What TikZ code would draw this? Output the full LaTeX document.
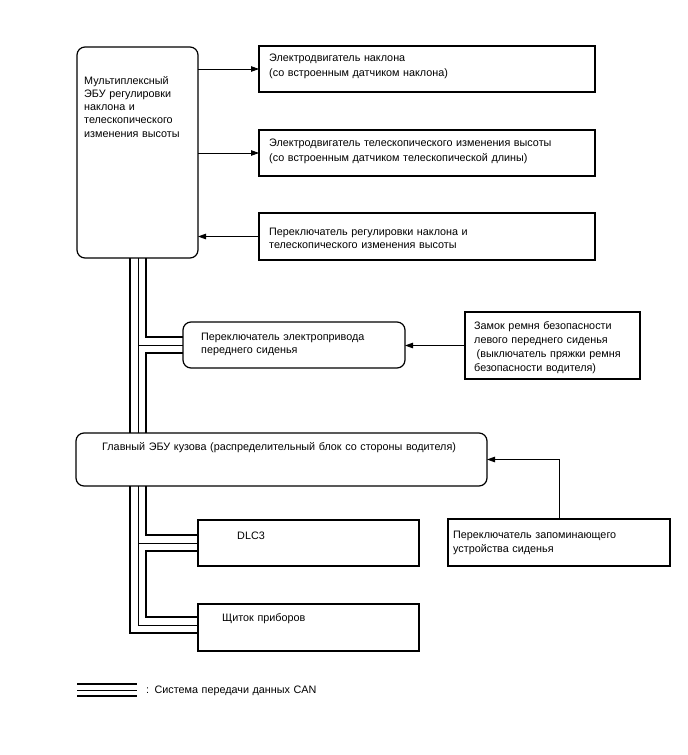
\documentclass[tikz,border=0pt]{standalone}
\usepackage{fontspec}
\setmainfont{Liberation Sans}
\usetikzlibrary{arrows.meta,calc}
\begin{document}
\begin{tikzpicture}[x=1pt,y=-1pt,
  box/.style={draw,line width=1.2pt,inner sep=0pt,outer sep=0pt,anchor=north west},
  rbox/.style={box,rounded corners=8pt},
  txt/.style={anchor=base west,inner sep=0pt,text width=480pt,align=left,font=\fontsize{10.8}{14}\selectfont},
  arr/.style={line width=0.8pt,-{Triangle[length=8pt,width=5.5pt]}},
  busthick/.style={line width=2.6pt},
  busthin/.style={line width=1pt}]
\useasboundingbox[fill=white] (0,0) rectangle (688,755);

% boxes
\node[rbox,minimum width=121pt,minimum height=211pt] (ecu) at (77,47) {};
\node[box,minimum width=336pt,minimum height=46pt] (b1) at (259,46) {};
\node[box,minimum width=336pt,minimum height=46pt] (b2) at (259,130) {};
\node[box,minimum width=336pt,minimum height=47pt] (b3) at (259,213) {};
\node[rbox,minimum width=222pt,minimum height=46pt] (seat) at (183,322) {};
\node[box,minimum width=175pt,minimum height=67pt] (belt) at (465,312) {};
\node[rbox,minimum width=411pt,minimum height=53pt] (main) at (76,433) {};
\node[box,minimum width=222pt,minimum height=47pt] (mem) at (448,519) {};
\node[box,minimum width=221pt,minimum height=46pt] (dlc) at (198,520) {};
\node[box,minimum width=221pt,minimum height=47pt] (cl) at (198,604) {};

% texts
\node[txt,font=\fontsize{10.8}{13.3}\selectfont] (tecu) at (84,84) {Мультиплексный\\ЭБУ регулировки\\наклона и\\телескопического\\изменения высоты};
\node[txt,font=\fontsize{10.8}{15}\selectfont] (tb1) at (269,61) {Электродвигатель наклона\\(со встроенным датчиком наклона)};
\node[txt,font=\fontsize{10.8}{15}\selectfont] (tb2) at (269,146) {Электродвигатель телескопического изменения высоты\\(со встроенным датчиком телескопической длины)};
\node[txt,font=\fontsize{10.8}{13}\selectfont] (tb3) at (269,235) {Переключатель регулировки наклона и\\телескопического изменения высоты};
\node[txt,font=\fontsize{10.8}{13}\selectfont] (tseat) at (201,340) {Переключатель электропривода\\переднего сиденья};
\node[txt] (tbelt) at (474,329) {Замок ремня безопасности\\левого переднего сиденья\\\hspace*{2.5pt}(выключатель пряжки ремня\\безопасности водителя)};
\node[txt] (tmain) at (102,450) {Главный ЭБУ кузова (распределительный блок со стороны водителя)};
\node[txt] (tmem) at (453,538) {Переключатель запоминающего\\устройства сиденья};
\node[txt] (tdlc) at (237,539) {DLC3};
\node[txt] (tcl) at (222,621) {Щиток приборов};

% arrows
\draw[arr] (ecu.east |- b1.west) -- (b1.west);
\draw[arr] (ecu.east |- b2.west) -- (b2.west);
\draw[arr] (b3.west) -- (ecu.east |- b3.west);
\draw[arr] (belt.west) -- (seat.east |- belt.west);
\draw[arr] (mem.north) |- (main.east);

% CAN bus
\coordinate (bA) at (130,0);
\coordinate (bB) at (138,0);
\coordinate (bC) at (146,0);
\coordinate (c1) at ($(cl.north west)+(0,13)$);
\coordinate (c2) at ($(cl.north west)+(0,21)$);
\coordinate (c3) at ($(cl.north west)+(0,29)$);

\draw[busthick] (bA |- ecu.south) -- (bA |- main.north);
\draw[busthin] (bB |- ecu.south) -- (bB |- main.north);
\draw[busthin] (bB |- seat.west) -- (seat.west);
\draw[busthick] (bC |- ecu.south) |- ($(seat.west)+(0,-8)$);
\draw[busthick] ($(seat.west)+(0,8)$) -| (bC |- main.north);

\draw[busthick] (bC |- main.south) |- ($(dlc.west)+(0,-8)$);
\draw[busthick] ($(dlc.west)+(0,8)$) -| (bC |- c1) -- (c1);
\draw[busthin] (bB |- dlc.west) -- (dlc.west);
\draw[busthin] (bB |- main.south) |- (c2);
\draw[busthick] (bA |- main.south) |- (c3);

% legend
\node[txt] (tleg) at (146,693) {: Система передачи данных CAN};
\draw[busthick] (77,684) -- (137,684);
\draw[busthin] (77,690) -- (137,690);
\draw[busthick] (77,696) -- (137,696);
\end{tikzpicture}
\end{document}
